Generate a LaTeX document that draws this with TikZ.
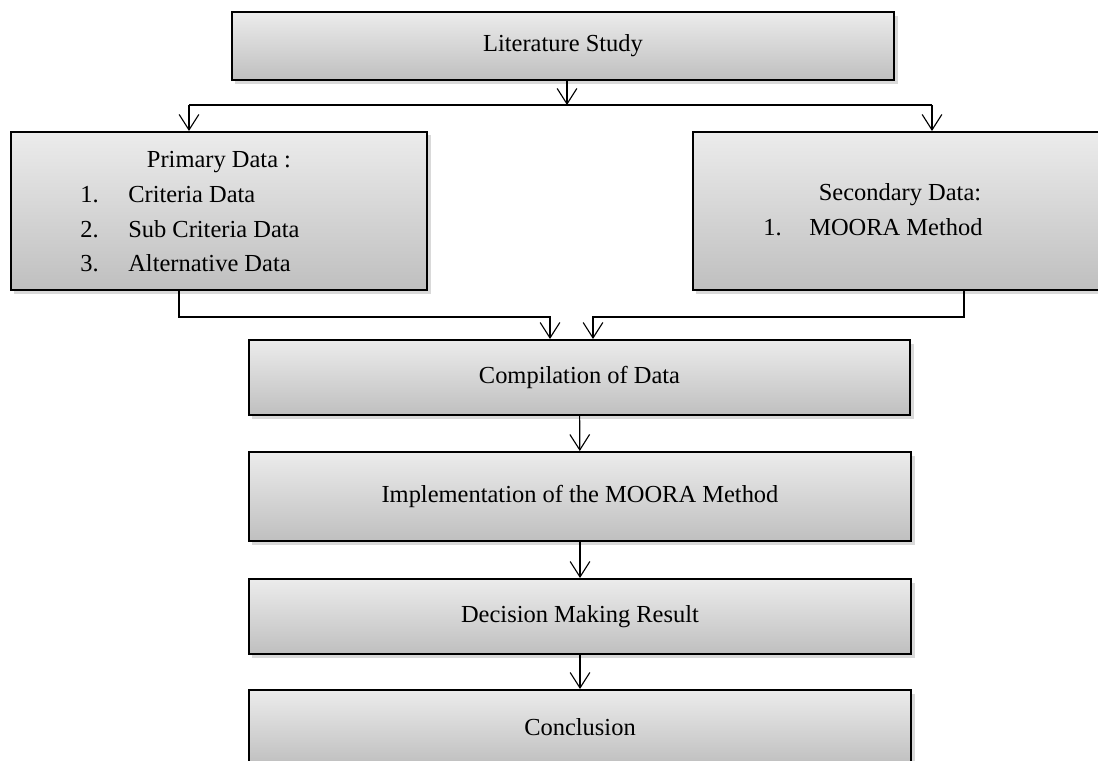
\documentclass[tikz,border=0pt]{standalone}
\usepackage{fontspec}
\setmainfont{Liberation Serif}
\usepackage{tikz}
\usetikzlibrary{arrows.meta,shadows}
\tikzstyle{box}=[rectangle, draw=black, line width=1.4pt, top color=gray!15, bottom color=gray!50, drop shadow={shadow xshift=2.5pt, shadow yshift=-2.5pt, opacity=0.3}]
\tikzstyle{arr}=[line width=0.8pt, -{Straight Barb[length=11pt,width=14pt]}]
\tikzstyle{item}=[inner sep=0pt, anchor=base west]

\begin{document}
\begin{tikzpicture}[x=0.025cm, y=-0.025cm, font=\fontsize{17.4}{24.6}\selectfont]
        \useasboundingbox (0,0) rectangle (1098,761);
        \clip (0,0) rectangle (1098,761);

        % cajas
        \node[box, minimum width=16.55cm, minimum height=1.7cm] (lit) at (563,46) {Literature Study};
        \node[box, minimum width=10.4cm, minimum height=3.95cm] (prim) at (219,211) {};
        \node[box, minimum width=10.35cm, minimum height=3.95cm] (sec) at (900,211) {};
        \node[box, minimum width=16.525cm, minimum height=1.875cm] (comp) at (579.5,377.5) {Compilation of Data};
        \node[box, minimum width=16.55cm, minimum height=2.225cm] (impl) at (580,496.5) {Implementation of the MOORA Method};
        \node[box, minimum width=16.55cm, minimum height=1.875cm] (dec) at (580,616.5) {Decision Making Result};
        \node[box, minimum width=16.55cm, minimum height=1.875cm] (concl) at (580,727.5) {Conclusion};

        % textos
        \node[inner sep=0pt, anchor=base] (primtitle) at (219,168) {Primary Data :};
        \node[item] (pn1) at (80,203) {1.};
        \node[item] (pt1) at (128,203) {Criteria Data};
        \node[item] (pn2) at (80,237.5) {2.};
        \node[item] (pt2) at (128,237.5) {Sub Criteria Data};
        \node[item] (pn3) at (80,272) {3.};
        \node[item] (pt3) at (128,272) {Alternative Data};
        \node[inner sep=0pt, anchor=base] (sectitle) at (900,201) {Secondary Data:};
        \node[item] (sn1) at (763,236) {1.};
        \node[item] (st1) at (809,236) {MOORA Method};

        % puntos
        \coordinate (lt) at (567,105);
        \coordinate (bl) at (189,105);
        \coordinate (br) at (932,105);
        \coordinate (pl) at (179,317);
        \coordinate (pr) at (964,317);
        \coordinate (ml) at (550,317);
        \coordinate (mr) at (593,317);

        % flechas
        \draw[arr] (lit.south -| lt) -- (lt);
        \draw[line width=0.8pt] (bl) -- (br);
        \draw[arr] (bl) -- (bl |- prim.north);
        \draw[arr] (br) -- (br |- sec.north);
        \draw[arr] (prim.south -| pl) -- (pl) -- (ml) -- (ml |- comp.north);
        \draw[arr] (sec.south -| pr) -- (pr) -- (mr) -- (mr |- comp.north);
        \draw[arr] (comp) -- (impl);
        \draw[arr] (impl) -- (dec);
        \draw[arr] (dec) -- (concl);
\end{tikzpicture}
\end{document}
